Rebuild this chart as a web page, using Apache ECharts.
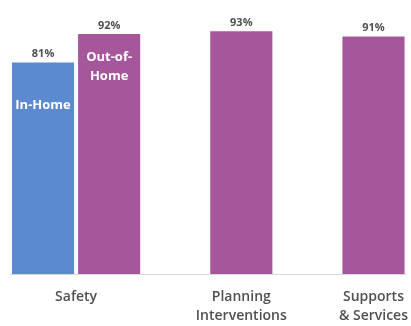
<!DOCTYPE html>
<html>
<head>
<meta charset="utf-8">
<script src="https://cdn.jsdelivr.net/npm/echarts@6/dist/echarts.min.js"></script>
<style>
  html, body { margin: 0; padding: 0; background: #fff; }
  #chart { width: 411px; height: 326px; }
</style>
</head>
<body>
<div id="chart"></div>
<script>
// bar slots, left to right (empty slots are the gaps between groups)
var slots = ['Safety In-Home', 'Safety Out-of-Home', '', 'Planning', '', 'Supports'];
var inHome = [81, null, null, null, null, null];
var outOfHome = [null, 92, null, 93, null, 91];
var innerNames = ['In-Home', 'Out-of-\nHome', '', '', '', ''];

// category labels sit on a finer grid of points (between / under the bars)
var labelPoints = ['', '', 'Safety', '', '', '', '', 'Planning\nInterventions', '', '', '', 'Supports\n& Services', ''];

var textGray = '#505050';
var blue = '#5b8ad0';
var purple = '#a6569b';

var chart = echarts.init(document.getElementById('chart'));

var combined = inHome.map(function (v, i) { return v != null ? v : outOfHome[i]; });

var option = {
    animation: false,
    grid: { left: 10, right: 2, top: 13, bottom: 52, containLabel: false },
    xAxis: [{
        type: 'category',
        data: slots,
        axisLine: { lineStyle: { color: '#d9d9d9', width: 1 } },
        axisTick: { show: false },
        axisLabel: { show: false }
    }, {
        type: 'category',
        data: labelPoints,
        position: 'bottom',
        boundaryGap: false,
        axisLine: { show: false },
        axisTick: { show: false },
        axisLabel: {
            interval: 0,
            margin: 14,
            color: textGray,
            fontFamily: 'Open Sans',
            fontWeight: 600,
            fontSize: 14,
            lineHeight: 19
        }
    }],
    yAxis: { type: 'value', min: 0, max: 100, show: false },
    series: [{
        name: 'In-Home',
        type: 'bar',
        data: inHome,
        barGap: '-100%',
        barCategoryGap: '6%',
        itemStyle: { color: blue },
        label: {
            show: true, position: 'top', distance: 3,
            formatter: '{c}%', color: textGray,
            fontFamily: 'Open Sans', fontWeight: 'bold', fontSize: 11
        }
    }, {
        name: 'Out-of-Home',
        type: 'bar',
        data: outOfHome,
        barGap: '-100%',
        barCategoryGap: '6%',
        itemStyle: { color: purple },
        label: {
            show: true, position: 'top', distance: 3,
            formatter: '{c}%', color: textGray,
            fontFamily: 'Open Sans', fontWeight: 'bold', fontSize: 11
        }
    }, {
        name: 'names',
        type: 'bar',
        barGap: '-100%',
        barCategoryGap: '6%',
        silent: true,
        itemStyle: { color: 'transparent' },
        data: combined.map(function (v, i) {
            return { value: v, label: { distance: i === 0 ? 33 : 14 } };
        }),
        label: {
            show: true, position: 'insideTop',
            formatter: function (p) { return innerNames[p.dataIndex]; },
            color: '#fff', fontFamily: 'Open Sans', fontWeight: 'bold',
            fontSize: 13, lineHeight: 19
        }
    }]
};

chart.setOption(option);
</script>
</body>
</html>
